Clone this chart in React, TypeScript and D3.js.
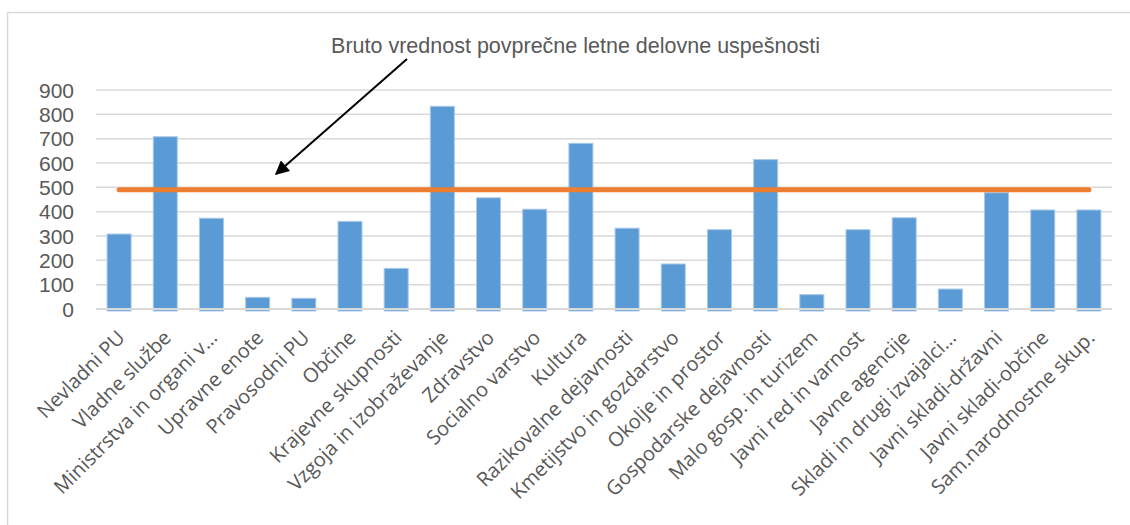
import React, { useEffect, useRef } from "react";
import * as d3 from "d3";

const categories = [
  "Nevladni PU",
  "Vladne službe",
  "Ministrstva in organi v…",
  "Upravne enote",
  "Pravosodni PU",
  "Občine",
  "Krajevne skupnosti",
  "Vzgoja in izobraževanje",
  "Zdravstvo",
  "Socialno varstvo",
  "Kultura",
  "Razikovalne dejavnosti",
  "Kmetijstvo in gozdarstvo",
  "Okolje in prostor",
  "Gospodarske dejavnosti",
  "Malo gosp. in turizem",
  "Javni red in varnost",
  "Javne agencije",
  "Skladi in drugi izvajalci…",
  "Javni skladi-državni",
  "Javni skladi-občine",
  "Sam.narodnostne skup.",
];

const barValues = [308, 708, 373, 48, 44, 360, 167, 833, 457, 410, 681, 332, 185, 326, 614, 59, 326, 375, 82, 478, 407, 407];

const lineValues = [490, 490, 490, 490, 490, 490, 490, 490, 490, 490, 490, 490, 490, 490, 490, 490, 490, 490, 490, 490, 490, 490];

const yTicks = [0, 100, 200, 300, 400, 500, 600, 700, 800, 900];

const annotation = "Bruto vrednost povprečne letne delovne uspešnosti";

function App() {
  const svgRef = useRef(null);

  useEffect(() => {
    const width = 1130;
    const height = 525;
    const margin = { top: 90, right: 18, bottom: 216, left: 96 };

    const svg = d3.select(svgRef.current);
    svg.selectAll("*").remove();
    svg.attr("width", width).attr("height", height);

    // chart border (cropped at right and bottom)
    svg
      .append("rect")
      .attr("x", 7.5)
      .attr("y", 12.5)
      .attr("width", 1200)
      .attr("height", 700)
      .attr("fill", "#fff")
      .attr("stroke", "#d9d9d9")
      .attr("stroke-width", 1.5);

    const innerRight = width - margin.right;
    const innerBottom = height - margin.bottom;

    const xScale = d3
      .scaleBand()
      .domain(categories)
      .range([margin.left, innerRight])
      .paddingInner(0.48)
      .paddingOuter(0.24);

    const yScale = d3.scaleLinear().domain([0, 900]).range([innerBottom, margin.top]);

    /* grid */
    svg
      .append("g")
      .selectAll("line")
      .data(yTicks.filter((d) => d !== 0))
      .enter()
      .append("line")
      .attr("x1", margin.left)
      .attr("x2", innerRight)
      .attr("y1", (d) => yScale(d))
      .attr("y2", (d) => yScale(d))
      .attr("stroke", "#d9d9d9")
      .attr("stroke-width", 1.5);

    /* y labels */
    svg
      .append("g")
      .selectAll("text")
      .data(yTicks)
      .enter()
      .append("text")
      .attr("x", 74)
      .attr("y", (d) => yScale(d))
      .attr("dy", "0.36em")
      .attr("text-anchor", "end")
      .attr("fill", "#595959")
      .style("font-family", "'Liberation Sans', Arial, sans-serif")
      .style("font-size", "21px")
      .text((d) => d);

    /* bars */
    svg
      .append("g")
      .selectAll("rect")
      .data(barValues)
      .enter()
      .append("rect")
      .attr("x", (d, i) => xScale(categories[i]))
      .attr("y", (d) => yScale(d))
      .attr("width", xScale.bandwidth())
      .attr("height", (d) => yScale(0) - yScale(d) + 2)
      .attr("fill", "#5b9bd5")
      .attr("stroke", "#a9c9ea")
      .attr("stroke-width", 1);

    /* category axis line */
    svg
      .append("line")
      .attr("x1", margin.left)
      .attr("x2", innerRight)
      .attr("y1", yScale(0))
      .attr("y2", yScale(0))
      .attr("stroke", "#d9d9d9")
      .attr("stroke-width", 2);

    /* x labels */
    svg
      .append("g")
      .selectAll("text")
      .data(categories)
      .enter()
      .append("text")
      .attr("transform", (d) => `translate(${xScale(d) + xScale.bandwidth() / 2 + 7},${innerBottom + 30}) rotate(-45)`)
      .attr("text-anchor", "end")
      .attr("fill", "#595959")
      .style("font-family", "'Open Sans', sans-serif")
      .style("font-size", "20px")
      .text((d) => d);

    /* average line */
    const line = d3
      .line()
      .x((d, i) => xScale(categories[i]) + xScale.bandwidth() / 2)
      .y((d) => yScale(d));

    svg
      .append("path")
      .datum(lineValues)
      .attr("d", line)
      .attr("fill", "none")
      .attr("stroke", "#ed7d31")
      .attr("stroke-width", 5)
      .attr("stroke-linecap", "round");

    /* annotation */
    svg
      .append("text")
      .attr("x", 575.5)
      .attr("y", 53)
      .attr("text-anchor", "middle")
      .attr("fill", "#595959")
      .style("font-family", "'Liberation Sans', Arial, sans-serif")
      .style("font-size", "21.5px")
      .text(annotation);

    const defs = svg.append("defs");
    defs
      .append("marker")
      .attr("id", "arrowhead")
      .attr("viewBox", "0 0 10 10")
      .attr("refX", 9)
      .attr("refY", 5)
      .attr("markerWidth", 8)
      .attr("markerHeight", 7)
      .attr("markerUnits", "strokeWidth")
      .attr("orient", "auto")
      .append("path")
      .attr("d", "M0,0 L10,5 L0,10 Z")
      .attr("fill", "#000");

    svg
      .append("line")
      .attr("x1", 407)
      .attr("y1", 59)
      .attr("x2", 276)
      .attr("y2", 174)
      .attr("stroke", "#000")
      .attr("stroke-width", 2)
      .attr("marker-end", "url(#arrowhead)");
  }, []);

  return (
    <div style={{ position: "fixed", left: 0, top: 0, width: 1130, height: 525, background: "#fff" }}>
      <svg ref={svgRef} style={{ display: "block" }}></svg>
    </div>
  );
}

export default App;
